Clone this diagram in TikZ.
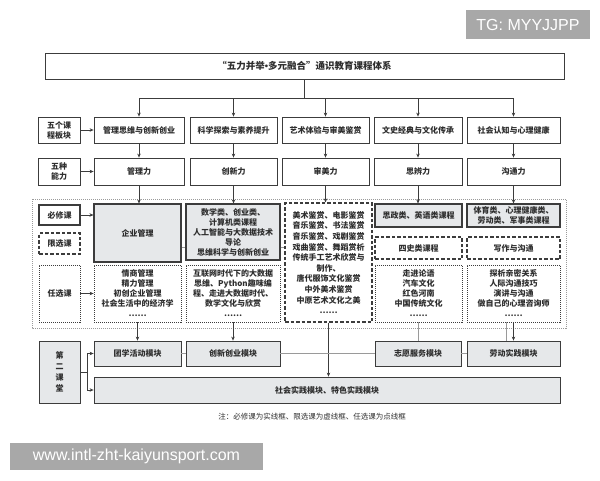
\documentclass[tikz,border=0pt]{standalone}
\usepackage{fontspec}
\setmainfont{Noto Sans CJK SC}
\newfontfamily\wmfont{Liberation Sans}
\usetikzlibrary{arrows.meta}
\definecolor{kuanghui}{HTML}{E6E8EA}
\definecolor{xianse}{HTML}{3C3C3C}
\definecolor{huise}{HTML}{9A9A9A}
\definecolor{zise}{HTML}{2E2E2E}
\definecolor{shuiyin}{HTML}{A8A8A8}
\begin{document}
\begin{tikzpicture}[x=1pt,y=-1pt,
    kuang/.style={draw=xianse, line width=0.8pt, fill=white, align=center, inner sep=0pt,
        text=zise, font=\fontsize{8}{10}\selectfont\bfseries},
    bixiu/.style={kuang, fill=kuanghui, line width=1.1pt},
    xianxuan/.style={kuang, line width=1.1pt, dash pattern=on 3.5pt off 2pt},
    renxuan/.style={kuang, line width=0.8pt, dash pattern=on 1pt off 1pt},
    jiantou/.style={draw=xianse, line width=0.7pt, -{Stealth[length=4pt,width=3.5pt]}},
    heixian/.style={draw=xianse, line width=0.7pt},
    huixian/.style={draw=huise, line width=0.6pt},
    shuiyinkuang/.style={fill=shuiyin, text=white, inner sep=0pt, font=\wmfont\fontsize{16}{16}\selectfont}
]
    \useasboundingbox (0,0) rectangle (600,480);

    % 水印
    \node[shuiyinkuang, minimum width=124pt, minimum height=29pt] (tg) at (528,24.5) {TG: MYYJJPP};
    \node[shuiyinkuang, minimum width=253pt, minimum height=27pt] (wangzhi) at (136.5,456.5) {www.intl-zht-kaiyunsport.com};

    % 标题
    \node[kuang, minimum width=519pt, minimum height=26pt, font=\fontsize{9.5}{11}\selectfont\bfseries] (title) at (304.5,66)
        {“五力并举{\wmfont\bfseries •}多元融合”通识教育课程体系};

    % 五个课程板块
    \node[kuang, minimum width=42pt, minimum height=26pt] (lab1) at (59,130) {五个课\\程板块};
    \node[kuang, minimum width=90pt, minimum height=26pt] (m1) at (139,130) {管理思维与创新创业};
    \node[kuang, minimum width=87pt, minimum height=26pt] (m2) at (233.5,130) {科学探索与素养提升};
    \node[kuang, minimum width=87pt, minimum height=26pt] (m3) at (325.5,130) {艺术体验与审美鉴赏};
    \node[kuang, minimum width=88pt, minimum height=26pt] (m4) at (418,130) {文史经典与文化传承};
    \node[kuang, minimum width=93pt, minimum height=26pt] (m5) at (513.5,130) {社会认知与心理健康};

    % 五种能力
    \node[kuang, minimum width=42pt, minimum height=27pt] (lab2) at (59,171.5) {五种\\能力};
    \node[kuang, minimum width=90pt, minimum height=27pt] (a1) at (139,171.5) {管理力};
    \node[kuang, minimum width=87pt, minimum height=27pt] (a2) at (233.5,171.5) {创新力};
    \node[kuang, minimum width=87pt, minimum height=27pt] (a3) at (325.5,171.5) {审美力};
    \node[kuang, minimum width=88pt, minimum height=27pt] (a4) at (418,171.5) {思辨力};
    \node[kuang, minimum width=93pt, minimum height=27pt] (a5) at (513.5,171.5) {沟通力};

    % 课程区域（点线外框）
    \draw[huise, line width=0.6pt, dash pattern=on 1pt off 1pt] (32,199) rectangle (566,328);

    % 课程类别
    \node[bixiu, fill=white, minimum width=41pt, minimum height=20pt] (bixiulab) at (59.5,215) {必修课};
    \node[xianxuan, minimum width=41pt, minimum height=21pt] (xianxuanlab) at (59.5,243.5) {限选课};
    \node[renxuan, minimum width=41pt, minimum height=57pt] (renxuanlab) at (59.5,293.5) {任选课};

    % 第一列
    \node[bixiu, minimum width=87pt, minimum height=58pt] (c1req) at (137.5,233) {企业管理};
    \node[renxuan, minimum width=87pt, minimum height=57pt] (c1opt) at (137.5,293.5)
        {情商管理\\精力管理\\初创企业管理\\社会生活中的经济学\\……};

    % 第二列
    \node[bixiu, minimum width=94pt, minimum height=56pt] (c2req) at (233,232)
        {数学类、创业类、\\计算机类课程\\人工智能与大数据技术\\导论\\思维科学与创新创业};
    \node[renxuan, minimum width=94pt, minimum height=57pt] (c2opt) at (233,293.5)
        {互联网时代下的大数据\\思维、Python趣味编\\程、走进大数据时代、\\数学文化与欣赏\\……};

    % 第三列
    \node[xianxuan, minimum width=87pt, minimum height=119pt, font=\fontsize{8}{10.6}\selectfont\bfseries] (art) at (328.5,262.5)
        {美术鉴赏、电影鉴赏\\音乐鉴赏、书法鉴赏\\音乐鉴赏、戏剧鉴赏\\戏曲鉴赏、舞蹈赏析\\传统手工艺术欣赏与\\制作、\\唐代服饰文化鉴赏\\中外美术鉴赏\\中原艺术文化之美\\……};

    % 第四列
    \node[bixiu, minimum width=87pt, minimum height=23pt] (c4req) at (418.5,215.5) {思政类、英语类课程};
    \node[xianxuan, minimum width=87pt, minimum height=22pt] (c4lim) at (418.5,248) {四史类课程};
    \node[renxuan, minimum width=87pt, minimum height=57pt] (c4opt) at (418.5,293.5)
        {走进论语\\汽车文化\\红色河南\\中国传统文化\\……};

    % 第五列
    \node[bixiu, minimum width=93pt, minimum height=23pt] (c5req) at (513.5,215.5) {体育类、心理健康类、\\劳动类、军事类课程};
    \node[xianxuan, minimum width=93pt, minimum height=22pt] (c5lim) at (513.5,248) {写作与沟通};
    \node[renxuan, minimum width=93pt, minimum height=57pt] (c5opt) at (513.5,293.5)
        {探析亲密关系\\人际沟通技巧\\演讲与沟通\\做自己的心理咨询师\\……};

    % 第二课堂
    \node[bixiu, line width=0.8pt, minimum width=41pt, minimum height=62pt, font=\fontsize{8}{11}\selectfont\bfseries] (second) at (59.5,372)
        {第\\二\\课\\堂};
    \node[bixiu, line width=0.8pt, minimum width=87pt, minimum height=25pt] (b1) at (137.5,353.5) {团学活动模块};
    \node[bixiu, line width=0.8pt, minimum width=94pt, minimum height=25pt] (b2) at (233,353.5) {创新创业模块};
    \node[bixiu, line width=0.8pt, minimum width=86pt, minimum height=25pt] (b4) at (418,353.5) {志愿服务模块};
    \node[bixiu, line width=0.8pt, minimum width=93pt, minimum height=25pt] (b5) at (513.5,353.5) {劳动实践模块};
    \node[bixiu, line width=0.8pt, minimum width=466pt, minimum height=26pt] (social) at (327,390) {社会实践模块、特色实践模块};

    % 注释
    \node[text=zise, font=\fontsize{7.5}{9}\selectfont] (zhu) at (312,417) {注：必修课为实线框、限选课为虚线框、任选课为点线框};

    % 标题到课程板块的连线
    \coordinate (fen) at (304.5,98);
    \draw[heixian] (title.south) -- (fen);
    \draw[heixian] (m1.north |- fen) -- (m5.north |- fen);
    \foreach \i in {1,...,5}
        \draw[jiantou] (m\i.north |- fen) -- (m\i.north);

    % 板块到能力
    \foreach \i in {1,...,5}
        \draw[jiantou] (m\i.south) -- (a\i.north);
    \draw[jiantou] (lab1.east) -- (m1.west);
    \draw[jiantou] (lab2.east) -- (a2.west -| a1.west);

    % 能力到课程
    \draw[jiantou] (a1.south) -- (a1.south |- c1req.north);
    \draw[jiantou] (a2.south) -- (a2.south |- c2req.north);
    \draw[jiantou] (a3.south) -- (a3.south |- art.north);
    \draw[jiantou] (a4.south) -- (a4.south |- c4req.north);
    \draw[jiantou] (a5.south) -- (a5.south |- c5req.north);

    % 课程类别箭头
    \draw[jiantou] (bixiulab.east) -- (bixiulab.east -| c1req.west);
    \draw[jiantou] (renxuanlab.east) -- (c1opt.west);
    \draw[huixian] ([yshift=-14pt]c1req.east) -- ([yshift=-14pt]c1req.east -| c2req.west);
    \draw[huixian] ([yshift=-14pt]c1req.east -| c2req.east) -- ([yshift=-14pt]c1req.east -| art.west);

    % 课程到第二课堂
    \draw[jiantou] (c1opt.south) -- (b1.north);
    \draw[jiantou] (c2opt.south) -- (b2.north);
    \draw[jiantou] (art.south) -- (art.south |- social.north);
    \draw[huixian] (c4opt.south) -- (c4opt.south |- b4.north);
    \draw[huixian] ([xshift=-7pt]c5opt.south) -- ([xshift=-7pt]c5opt.south |- b5.north);
    \draw[jiantou] (c5opt.south) -- (b5.north);

    % 模块之间的灰线
    \draw[huixian] (b1.east) -- (b2.west);
    \draw[huixian] (b2.east) -- (b4.west);
    \draw[huixian] (b4.east) -- (b5.west);

    % 第二课堂分支
    \coordinate (fen2) at (87,372);
    \draw[heixian] (second.east) -- (fen2);
    \draw[jiantou] (fen2) |- (b1.west);
    \draw[jiantou] (fen2) |- (social.west);

\end{tikzpicture}
\end{document}
